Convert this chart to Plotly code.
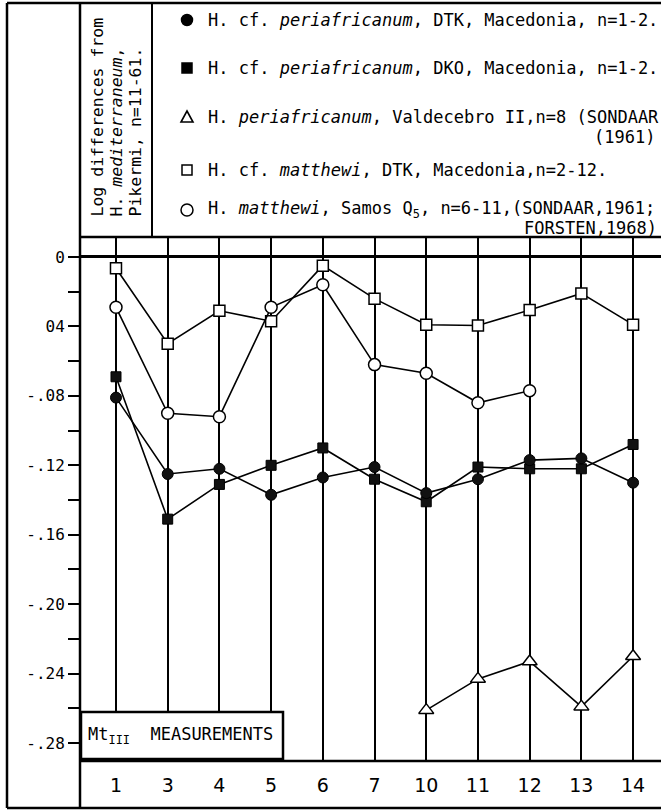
import plotly.graph_objects as go

# ---------------- data ----------------
categories = ["1", "3", "4", "5", "6", "7", "10", "11", "12", "13", "14"]
dtk_periafricanum = [-0.081, -0.125, -0.122, -0.137, -0.127, -0.121, -0.136, -0.128, -0.117, -0.116, -0.130]
dko_periafricanum = [-0.069, -0.151, -0.131, -0.120, -0.110, -0.128, -0.141, -0.121, -0.122, -0.122, -0.108]
valdecebro = [None, None, None, None, None, None, -0.261, -0.243, -0.233, -0.259, -0.230]
dtk_matthewi = [-0.0065, -0.050, -0.031, -0.037, -0.005, -0.024, -0.039, -0.0395, -0.0305, -0.021, -0.039]
samos_matthewi = [-0.029, -0.090, -0.092, -0.029, -0.016, -0.062, -0.067, -0.084, -0.077, None, None]
ytick_vals = [0, -0.04, -0.08, -0.12, -0.16, -0.20, -0.24, -0.28]
ytick_text = ["0", "04", "-.08", "-.12", "-.16", "-.20", "-.24", "-.28"]
yminor_vals = [-0.02, -0.06, -0.10, -0.14, -0.18, -0.22, -0.26]

W, H = 661, 812
FONT = "DejaVu Sans Mono"


def X(px):
    return px / W


def Y(py):
    return 1 - py / H


fig = go.Figure()

LINE = dict(color="black", width=1.6)

fig.add_trace(go.Scatter(x=categories, y=dtk_matthewi, mode="lines+markers", line=LINE,
                         marker=dict(symbol="square", size=11, color="white", line=dict(color="black", width=1.5))))
fig.add_trace(go.Scatter(x=categories, y=samos_matthewi, mode="lines+markers", line=LINE,
                         marker=dict(symbol="circle", size=12, color="white", line=dict(color="black", width=1.5))))
fig.add_trace(go.Scatter(x=categories, y=dko_periafricanum, mode="lines+markers", line=LINE,
                         marker=dict(symbol="square", size=10, color="#111", line=dict(color="black", width=1))))
fig.add_trace(go.Scatter(x=categories, y=dtk_periafricanum, mode="lines+markers", line=LINE,
                         marker=dict(symbol="circle", size=11, color="#111", line=dict(color="black", width=1))))
fig.add_trace(go.Scatter(x=categories, y=valdecebro, mode="lines+markers", line=LINE, connectgaps=False,
                         marker=dict(symbol="triangle-up", size=13, color="white", line=dict(color="black", width=1.5))))

shapes = []


def hline(y, x0, x1, w=2.5):
    shapes.append(dict(type="line", xref="paper", yref="paper", x0=X(x0), x1=X(x1), y0=Y(y), y1=Y(y),
                       line=dict(color="black", width=w)))


def vline(x, y0, y1, w=2.5):
    shapes.append(dict(type="line", xref="paper", yref="paper", x0=X(x), x1=X(x), y0=Y(y0), y1=Y(y1),
                       line=dict(color="black", width=w)))


vline(7, 3, 808)
vline(80, 3, 808)
hline(3, 7, 661)
vline(152, 3, 237, 2)
hline(237, 80, 661)
hline(761, 80, 661)
hline(808, 7, 661)
shapes.append(dict(type="rect", xref="paper", yref="paper", x0=X(81), x1=X(283), y0=Y(759), y1=Y(712),
                   fillcolor="white", line=dict(color="black", width=2.5), layer="above"))

# legend symbols
lx = 187


def sym_circle(cy, filled, r=5.5):
    shapes.append(dict(type="circle", xref="paper", yref="paper", x0=X(lx - r), x1=X(lx + r),
                       y0=Y(cy + r), y1=Y(cy - r), fillcolor="black" if filled else "white",
                       line=dict(color="black", width=1.5)))


def sym_square(cy, filled, r=5):
    shapes.append(dict(type="rect", xref="paper", yref="paper", x0=X(lx - r), x1=X(lx + r),
                       y0=Y(cy + r), y1=Y(cy - r), fillcolor="black" if filled else "white",
                       line=dict(color="black", width=1.5)))


sym_circle(20, True)
sym_square(68, True)
shapes.append(dict(type="path", xref="paper", yref="paper",
                   path=f"M {X(lx-6)} {Y(122)} L {X(lx+6)} {Y(122)} L {X(lx)} {Y(111)} Z",
                   fillcolor="white", line=dict(color="black", width=1.6)))
sym_square(170, False)
sym_circle(210, False, 6)

annotations = []
FS = 17


def txt(x, y, s, xanchor="left", size=FS, angle=0, yanchor="middle"):
    annotations.append(dict(xref="paper", yref="paper", x=X(x), y=Y(y), text=s, showarrow=False,
                            xanchor=xanchor, yanchor=yanchor, textangle=angle,
                            font=dict(family=FONT, size=size, color="black")))


txt(206, 20, "H. cf. <i>periafricanum</i>, DTK, Macedonia, n=1-2.")
txt(206, 68, "H. cf. <i>periafricanum</i>, DKO, Macedonia, n=1-2.")
txt(206, 117, "H. <i>periafricanum</i>, Valdecebro II,n=8 (SONDAAR")
txt(657, 137, "(1961)", xanchor="right")
txt(206, 170, "H. cf. <i>matthewi</i>, DTK, Macedonia,n=2-12.")
txt(206, 210, "H. <i>matthewi</i>, Samos Q<sub>5</sub>, n=6-11,(SONDAAR,1961;")
txt(659, 228, "FORSTEN,1968)", xanchor="right")

txt(97, 219, "Log differences from", xanchor="center", yanchor="bottom", angle=-90, size=16.5)
txt(116, 219, "H. <i>mediterraneum</i>,", xanchor="center", yanchor="bottom", angle=-90, size=16.5)
txt(135, 219, "Pikermi, n=11-61.", xanchor="center", yanchor="bottom", angle=-90, size=16.5)

txt(86, 735, "Mt<sub>III</sub>&nbsp;&nbsp;MEASUREMENTS", size=17)

fig.update_layout(
    width=W, height=H,
    margin=dict(l=0, r=0, t=0, b=0, pad=0),
    paper_bgcolor="white", plot_bgcolor="white",
    showlegend=False,
    shapes=shapes, annotations=annotations,
    xaxis=dict(
        type="category", categoryorder="array", categoryarray=categories,
        domain=[X(80), 1], range=[-0.696, 10.54],
        showgrid=True, gridcolor="black", gridwidth=1.6,
        showline=False, zeroline=False, ticks="", automargin=False,
        tickfont=dict(family="DejaVu Sans", size=19, color="black"),
        ticklabelstandoff=11,
    ),
    yaxis=dict(
        domain=[Y(761), Y(237)], range=[-0.2903, 0.0115],
        tickvals=ytick_vals, ticktext=ytick_text,
        ticks="outside", ticklen=11, tickwidth=1.5, tickcolor="black",
        minor=dict(tickvals=yminor_vals, ticks="outside", ticklen=11, tickwidth=1.5, tickcolor="black"),
        showgrid=False, showline=False,
        zeroline=True, zerolinecolor="black", zerolinewidth=2.5,
        automargin=False,
        tickfont=dict(family=FONT, size=16, color="black"),
        ticklabelstandoff=0,
    ),
)

fig.write_html("out.html", config={"displayModeBar": False},
               post_script="document.body.style.margin='0';document.body.style.overflow='hidden';")
